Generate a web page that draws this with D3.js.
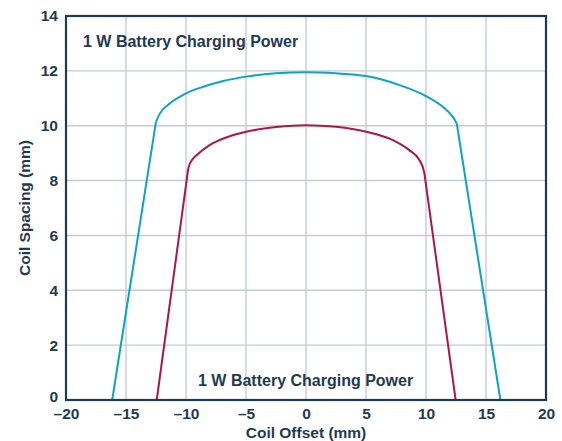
<!DOCTYPE html>
<html>
<head>
<meta charset="utf-8">
<script src="https://cdn.jsdelivr.net/npm/d3@7"></script>
<style>
  body { margin: 0; background: #fff; }
  text { font-family: "Liberation Sans", Arial, sans-serif; font-weight: bold; fill: #1f3a53; }
</style>
</head>
<body>
<svg id="chart" width="562" height="441"></svg>
<script>
// values (mm)
var xTicks = [-20, -15, -10, -5, 0, 5, 10, 15, 20]
var yTicks = [0, 2, 4, 6, 8, 10, 12, 14]

// outer curve (cyan)
var cyanX = [-16.15, -12.5, -12.17, -11.33, -10, -8.56, -6.9, -5, -2.5, 0, 2.5, 5, 7.8, 10, 11.4, 12.22, 12.56, 16.2]
var cyanY = [0, 10.15, 10.45, 10.82, 11.18, 11.42, 11.63, 11.79, 11.91, 11.95, 11.91, 11.81, 11.48, 11.08, 10.69, 10.33, 10.09, 0]

// inner curve (red)
var redX = [-12.44, -9.95, -9.8, -9.5, -9.1, -8, -6.6, -5, -2.5, 0, 2.5, 5, 7.2, 8.6, 9.45, 9.85, 9.95, 12.47]
var redY = [0, 8.0, 8.45, 8.75, 8.93, 9.3, 9.58, 9.78, 9.95, 10.02, 9.96, 9.78, 9.48, 9.11, 8.75, 8.3, 8.0, 0]

var labelText = '1 W Battery Charging Power'

var svg = d3.select('#chart')
var mLeft = 66, mRight = 546, mTop = 16, mBottom = 400

var xScale = d3.scaleLinear().domain([-20, 20]).range([mLeft, mRight])
var yScale = d3.scaleLinear().domain([0, 14]).range([mBottom, mTop])

// grid
svg.append('g').selectAll('line').data(xTicks.slice(1, -1)).enter().append('line')
    .attr('x1', d => xScale(d)).attr('x2', d => xScale(d))
    .attr('y1', mTop).attr('y2', mBottom)
    .attr('stroke', '#c4cdd5').attr('stroke-width', 1.4)
svg.append('g').selectAll('line').data(yTicks.slice(1, -1)).enter().append('line')
    .attr('x1', mLeft).attr('x2', mRight)
    .attr('y1', d => yScale(d)).attr('y2', d => yScale(d))
    .attr('stroke', '#c4cdd5').attr('stroke-width', 1.4)

// axes labels
var xAxis = d3.axisBottom(xScale).tickValues(xTicks).tickSize(0).tickPadding(8)
    .tickFormat(d => d < 0 ? '\u2013' + Math.abs(d) : d)
var gx = svg.append('g').attr('transform', `translate(0,${mBottom})`).call(xAxis)
gx.select('.domain').remove()
gx.selectAll('text').attr('font-size', '15.5px').attr('fill', '#1f3a53')

var yAxis = d3.axisLeft(yScale).tickValues(yTicks).tickSize(0).tickPadding(8)
var gy = svg.append('g').attr('transform', `translate(${mLeft},0)`).call(yAxis)
gy.select('.domain').remove()
gy.selectAll('text').attr('font-size', '15.5px').attr('fill', '#1f3a53')
// the zero label sits a bit higher, clear of the x labels
gy.selectAll('.tick').filter(d => d === 0).select('text').attr('y', -3)

// curves: straight legs + smooth top
function drawCurve (xs, ys, color) {
    var pts = xs.map((x, i) => [x, ys[i]])
    var n = pts.length
    var lin = d3.line().x(d => xScale(d[0])).y(d => yScale(d[1]))
    var smooth = d3.line().x(d => xScale(d[0])).y(d => yScale(d[1])).curve(d3.curveMonotoneX)
    svg.append('path').attr('d', lin(pts.slice(0, 2)))
        .attr('fill', 'none').attr('stroke', color).attr('stroke-width', 2)
    svg.append('path').attr('d', smooth(pts.slice(1, n - 1)))
        .attr('fill', 'none').attr('stroke', color).attr('stroke-width', 2)
    svg.append('path').attr('d', lin(pts.slice(n - 2)))
        .attr('fill', 'none').attr('stroke', color).attr('stroke-width', 2)
}
drawCurve(cyanX, cyanY, '#0ba4c3')
drawCurve(redX, redY, '#a8184b')

// frame
svg.append('rect').attr('x', mLeft).attr('y', mTop)
    .attr('width', mRight - mLeft).attr('height', mBottom - mTop)
    .attr('fill', 'none').attr('stroke', '#1f3a53').attr('stroke-width', 2.2)

// annotations
svg.append('text').attr('x', 83).attr('y', 47).attr('font-size', '16px').text(labelText)
svg.append('text').attr('x', 198).attr('y', 386).attr('font-size', '16px').text(labelText)

// axis titles
svg.append('text').attr('x', (mLeft + mRight) / 2).attr('y', 438)
    .attr('text-anchor', 'middle').attr('font-size', '15.5px').text('Coil Offset (mm)')
svg.append('text').attr('transform', `translate(30,${(mTop + mBottom) / 2}) rotate(-90)`)
    .attr('text-anchor', 'middle').attr('font-size', '15.5px').text('Coil Spacing (mm)')
</script>
</body>
</html>
